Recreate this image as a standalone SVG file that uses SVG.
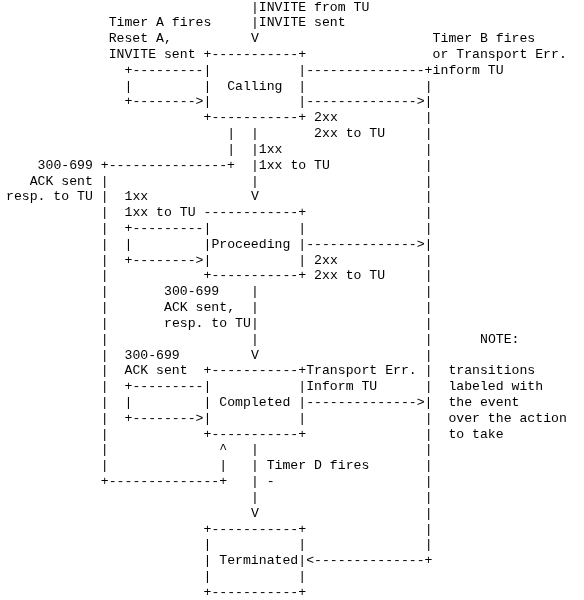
<svg xmlns="http://www.w3.org/2000/svg" width="584" height="600" viewBox="0 0 584 600" xml:space="preserve">
<style>
text { font-family: "Liberation Mono", "Courier New", monospace; font-size: 13.1667px; fill: #000; white-space: pre; }
</style>
<defs>
<filter id="flat" filterUnits="userSpaceOnUse" x="0" y="0" width="584" height="600">
<feOffset dx="0" dy="0"/>
</filter>
</defs>
<rect width="584" height="600" fill="#fff"/>
<g filter="url(#flat)">
<g id="node-calling">
<text x="203.5" y="57.96">+-----------+</text>
<text x="203.5" y="73.78">|           |</text>
<text x="203.5" y="89.6">|  Calling  |</text>
<text x="203.5" y="105.42">|           |</text>
<text x="203.5" y="121.24">+-----------+</text>
</g>
<g id="node-proceeding">
<text x="203.5" y="216.16">------------+</text>
<text x="203.5" y="231.98">|           |</text>
<text x="203.5" y="247.8">|Proceeding |</text>
<text x="203.5" y="263.62">|           |</text>
<text x="203.5" y="279.44">+-----------+</text>
</g>
<g id="node-completed">
<text x="203.5" y="374.36">+-----------+</text>
<text x="203.5" y="390.18">|           |</text>
<text x="203.5" y="406">| Completed |</text>
<text x="203.5" y="421.82">|           |</text>
<text x="203.5" y="437.64">+-----------+</text>
</g>
<g id="node-terminated">
<text x="203.5" y="532.56">+-----------+</text>
<text x="203.5" y="548.38">|           |</text>
<text x="203.5" y="564.2">| Terminated|</text>
<text x="203.5" y="580.02">|           |</text>
<text x="203.5" y="595.84">+-----------+</text>
</g>
<g id="connectors">
<text x="250.9" y="10.5">|</text>
<text x="250.9" y="26.32">|</text>
<text x="250.9" y="42.14">V</text>
<text x="124.5" y="73.78">+---------</text>
<text x="124.5" y="89.6">|</text>
<text x="124.5" y="105.42">+--------&gt;</text>
<text x="306.2" y="73.78">---------------+</text>
<text x="306.2" y="105.42">--------------&gt;|</text>
<text x="424.7" y="89.6">|</text>
<text x="424.7" y="121.24">|</text>
<text x="424.7" y="137.06">|</text>
<text x="424.7" y="152.88">|</text>
<text x="424.7" y="168.7">|</text>
<text x="424.7" y="184.52">|</text>
<text x="424.7" y="200.34">|</text>
<text x="424.7" y="216.16">|</text>
<text x="424.7" y="231.98">|</text>
<text x="424.7" y="263.62">|</text>
<text x="424.7" y="279.44">|</text>
<text x="424.7" y="295.26">|</text>
<text x="424.7" y="311.08">|</text>
<text x="424.7" y="326.9">|</text>
<text x="424.7" y="342.72">|</text>
<text x="424.7" y="358.54">|</text>
<text x="424.7" y="374.36">|</text>
<text x="424.7" y="390.18">|</text>
<text x="424.7" y="421.82">|</text>
<text x="424.7" y="437.64">|</text>
<text x="424.7" y="453.46">|</text>
<text x="424.7" y="469.28">|</text>
<text x="424.7" y="485.1">|</text>
<text x="424.7" y="500.92">|</text>
<text x="424.7" y="516.74">|</text>
<text x="424.7" y="532.56">|</text>
<text x="424.7" y="548.38">|</text>
<text x="306.2" y="564.2">&lt;--------------+</text>
<text x="227.2" y="137.06">|</text>
<text x="227.2" y="152.88">|</text>
<text x="100.8" y="168.7">+---------------+</text>
<text x="250.9" y="137.06">|</text>
<text x="250.9" y="152.88">|</text>
<text x="250.9" y="168.7">|</text>
<text x="250.9" y="184.52">|</text>
<text x="250.9" y="200.34">V</text>
<text x="100.8" y="184.52">|</text>
<text x="100.8" y="200.34">|</text>
<text x="100.8" y="216.16">|</text>
<text x="100.8" y="231.98">|</text>
<text x="100.8" y="247.8">|</text>
<text x="100.8" y="263.62">|</text>
<text x="100.8" y="279.44">|</text>
<text x="100.8" y="295.26">|</text>
<text x="100.8" y="311.08">|</text>
<text x="100.8" y="326.9">|</text>
<text x="100.8" y="342.72">|</text>
<text x="100.8" y="358.54">|</text>
<text x="100.8" y="374.36">|</text>
<text x="100.8" y="390.18">|</text>
<text x="100.8" y="406">|</text>
<text x="100.8" y="421.82">|</text>
<text x="100.8" y="437.64">|</text>
<text x="100.8" y="453.46">|</text>
<text x="100.8" y="469.28">|</text>
<text x="100.8" y="485.1">+--------------+</text>
<text x="219.3" y="469.28">|</text>
<text x="219.3" y="453.46">^</text>
<text x="124.5" y="231.98">+---------</text>
<text x="124.5" y="247.8">|</text>
<text x="124.5" y="263.62">+--------&gt;</text>
<text x="306.2" y="247.8">--------------&gt;|</text>
<text x="250.9" y="295.26">|</text>
<text x="250.9" y="311.08">|</text>
<text x="250.9" y="326.9">|</text>
<text x="250.9" y="342.72">|</text>
<text x="250.9" y="358.54">V</text>
<text x="124.5" y="390.18">+---------</text>
<text x="124.5" y="406">|</text>
<text x="124.5" y="421.82">+--------&gt;</text>
<text x="306.2" y="406">--------------&gt;|</text>
<text x="250.9" y="453.46">|</text>
<text x="250.9" y="469.28">|</text>
<text x="250.9" y="485.1">|</text>
<text x="250.9" y="500.92">|</text>
<text x="250.9" y="516.74">V</text>
</g>
<g id="labels">
<text x="258.8" y="10.5">INVITE from TU</text>
<text x="108.7" y="26.32">Timer A fires</text>
<text x="258.8" y="26.32">INVITE sent</text>
<text x="108.7" y="42.14">Reset A,</text>
<text x="432.6" y="42.14">Timer B fires</text>
<text x="108.7" y="57.96">INVITE sent</text>
<text x="432.6" y="57.96">or Transport Err.</text>
<text x="432.6" y="73.78">inform TU</text>
<text x="314.1" y="121.24">2xx</text>
<text x="314.1" y="137.06">2xx to TU</text>
<text x="258.8" y="152.88">1xx</text>
<text x="37.6" y="168.7">300-699</text>
<text x="258.8" y="168.7">1xx to TU</text>
<text x="29.7" y="184.52">ACK sent</text>
<text x="6" y="200.34">resp. to TU</text>
<text x="124.5" y="200.34">1xx</text>
<text x="124.5" y="216.16">1xx to TU</text>
<text x="314.1" y="263.62">2xx</text>
<text x="314.1" y="279.44">2xx to TU</text>
<text x="164" y="295.26">300-699</text>
<text x="164" y="311.08">ACK sent,</text>
<text x="164" y="326.9">resp. to TU</text>
<text x="124.5" y="358.54">300-699</text>
<text x="124.5" y="374.36">ACK sent</text>
<text x="306.2" y="374.36">Transport Err.</text>
<text x="306.2" y="390.18">Inform TU</text>
<text x="266.7" y="469.28">Timer D fires</text>
<text x="266.7" y="485.1">-</text>
</g>
<g id="note">
<text x="480" y="342.72">NOTE:</text>
<text x="448.4" y="374.36">transitions</text>
<text x="448.4" y="390.18">labeled with</text>
<text x="448.4" y="406">the event</text>
<text x="448.4" y="421.82">over the action</text>
<text x="448.4" y="437.64">to take</text>
</g>
</g>
</svg>
